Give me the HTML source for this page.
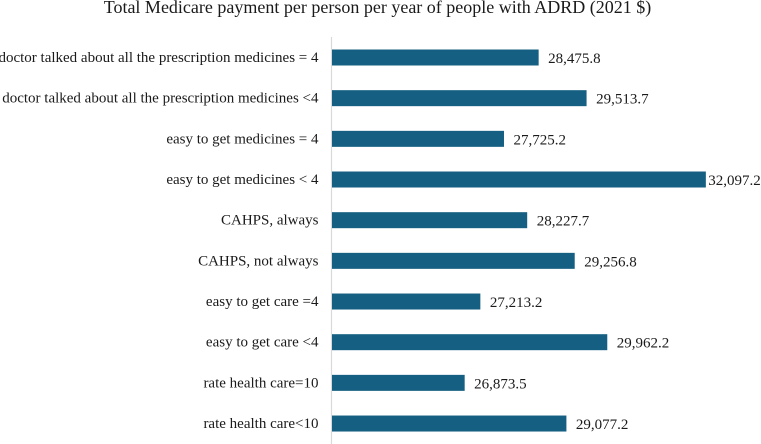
<!DOCTYPE html>
<html lang="en">
<head>
<meta charset="utf-8">
<title>Total Medicare payment per person per year</title>
<style>
html,body{margin:0;padding:0;background:#fff;}
body{width:761px;height:444px;overflow:hidden;}
svg{display:block;}
text{font-family:"Liberation Serif",serif;fill:#1a1a1a;}
</style>
</head>
<body>
<svg id="chart" width="761" height="444" viewBox="0 0 761 444" xmlns="http://www.w3.org/2000/svg">
<rect x="0" y="0" width="761" height="444" fill="#ffffff"/>
<text x="377.5" y="13" text-anchor="middle" font-size="18">Total Medicare payment per person per year of people with ADRD (2021 $)</text>
<line x1="331.5" y1="37" x2="331.5" y2="444" stroke="#d9d9d9" stroke-width="1.2"/>
<g id="bars"></g>
<g id="cats"></g>
<g id="vals"></g>
</svg>
<script>
const categories = [
  "doctor talked about all the prescription medicines = 4",
  "doctor talked about all the prescription medicines <4",
  "easy to get medicines = 4",
  "easy to get medicines < 4",
  "CAHPS, always",
  "CAHPS, not always",
  "easy to get care =4",
  "easy to get care <4",
  "rate health care=10",
  "rate health care<10"
];
const values = [28475.8, 29513.7, 27725.2, 32097.2, 28227.7, 29256.8, 27213.2, 29962.2, 26873.5, 29077.2];
const axisMin = 24000;

const NS = "http://www.w3.org/2000/svg";
function xScale(v){ return 332 + (v - axisMin) * 0.04617; }
function yScale(i){ return 57.5 + i * 40.67; }
function fmt(v){ return v.toLocaleString("en-US",{minimumFractionDigits:1,maximumFractionDigits:1}); }

const barsG = document.getElementById("bars");
const catsG = document.getElementById("cats");
const valsG = document.getElementById("vals");

categories.forEach(function(cat, i){
  const v = values[i];
  const end = xScale(v);
  const cy = yScale(i);

  const r = document.createElementNS(NS, "rect");
  r.setAttribute("x", 332);
  r.setAttribute("y", cy - 8);
  r.setAttribute("width", Math.max(0, end - 332));
  r.setAttribute("height", 16);
  r.setAttribute("fill", "#156082");
  
  
  barsG.appendChild(r);

  const c = document.createElementNS(NS, "text");
  c.setAttribute("x", 318.5);
  c.setAttribute("y", cy + 4.5);
  c.setAttribute("text-anchor", "end");
  c.setAttribute("font-size", "15");
  c.textContent = cat;
  
  
  catsG.appendChild(c);

  const t = document.createElementNS(NS, "text");
  t.setAttribute("x", Math.min(end + 9.5, 708.3));
  t.setAttribute("y", cy + 5.5);
  t.setAttribute("font-size", "15");
  t.textContent = fmt(v);
  
  
  valsG.appendChild(t);
});
</script>
</body>
</html>
